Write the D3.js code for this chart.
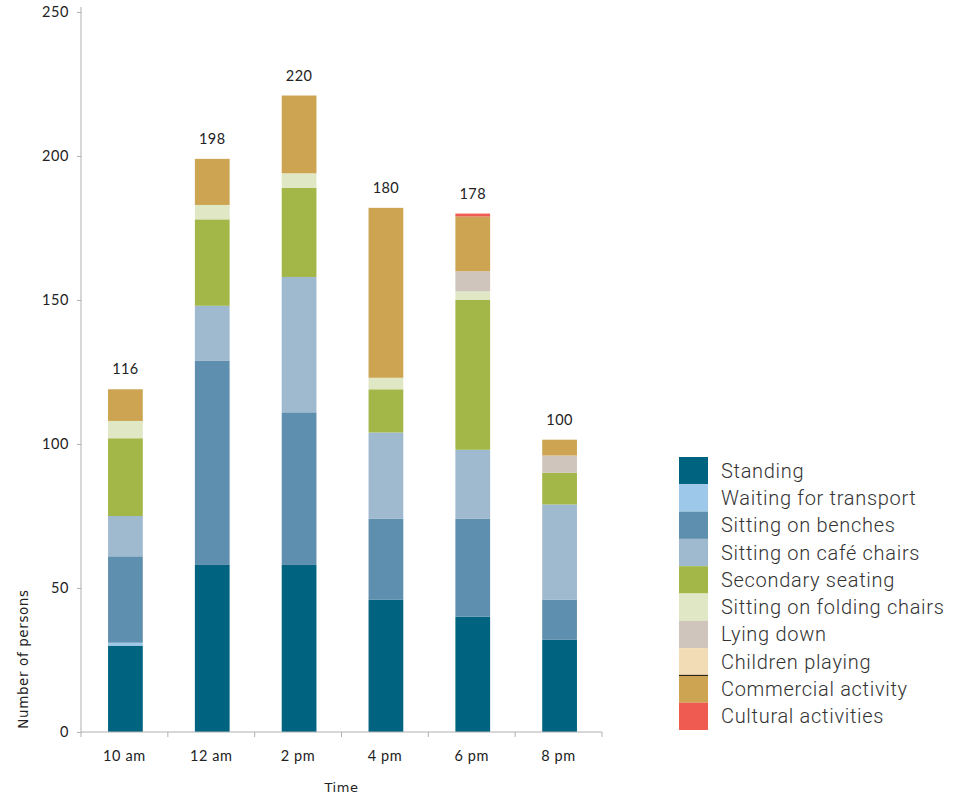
<!DOCTYPE html>
<html>
<head>
<meta charset="utf-8">
<script src="https://cdn.jsdelivr.net/npm/d3@7"></script>
<style>
  body { margin: 0; background: #fff; }
  svg { display: block; }
</style>
</head>
<body>
<main></main>
<script>
// people counted per activity, by time of day

const times = ["10 am", "12 am", "2 pm", "4 pm", "6 pm", "8 pm"];
const totals = [116, 198, 220, 180, 178, 100];

const standing = [30, 58, 58, 46, 40, 32];
const waiting = [1, 0, 0, 0, 0, 0];
const benches = [30, 71, 53, 28, 34, 14];
const cafeChairs = [14, 19, 47, 30, 24, 33];
const secondary = [27, 30, 31, 15, 52, 11];
const folding = [6, 5, 5, 4, 3, 0];
const lying = [0, 0, 0, 0, 7, 6];
const children = [0, 0, 0, 0, 0, 0];
const commercial = [11, 16, 27, 59, 19, 5.5];
const cultural = [0, 0, 0, 0, 1, 0];

const seriesNames = ["Standing", "Waiting for transport", "Sitting on benches",
  "Sitting on café chairs", "Secondary seating", "Sitting on folding chairs",
  "Lying down", "Children playing", "Commercial activity", "Cultural activities"];
const seriesValues = [standing, waiting, benches, cafeChairs, secondary, folding,
  lying, children, commercial, cultural];
const yTicks = [0, 50, 100, 150, 200, 250];

const colors = ["#00637f", "#9dc8ea", "#5f8fae", "#9fb9cf", "#a2b747", "#dfe7c4",
  "#cfc5bc", "#f2dcb5", "#cda451", "#ef5b51"];

// build rows for the stack
const rows = times.map((t, i) => {
  let row = { time: t };
  seriesNames.forEach((s, j) => { row[s] = seriesValues[j][i]; });
  return row;
});

const width = 971, height = 798;
const plot = { left: 81, right: 602, top: 12, bottom: 732 };

const svg = d3.select("main").append("svg")
  .attr("width", width)
  .attr("height", height);

const x = d3.scaleBand()
  .domain(times)
  .range([plot.left, plot.right])
  .paddingInner(0.6)
  .paddingOuter(0.3);

const y = d3.scaleLinear()
  .domain([0, 250])
  .range([plot.bottom, plot.top]);

const color = d3.scaleOrdinal().domain(seriesNames).range(colors);

const stack = d3.stack().keys(seriesNames);
const layers = stack(rows);

// bars
svg.append("g")
  .selectAll("g")
  .data(layers)
  .enter().append("g")
  .attr("fill", d => color(d.key))
  .selectAll("rect")
  .data(d => d)
  .enter().append("rect")
  .attr("x", d => x(d.data.time) + 1)
  .attr("y", d => y(d[1]))
  .attr("width", x.bandwidth())
  .attr("height", d => y(d[0]) - y(d[1]));

// total labels above each bar
const tops = rows.map(r => d3.sum(seriesNames, s => r[s]));
svg.append("g")
  .selectAll("text")
  .data(times)
  .enter().append("text")
  .attr("x", d => x(d) + 1 + x.bandwidth() / 2)
  .attr("y", (d, i) => y(tops[i]) - 15)
  .attr("text-anchor", "middle")
  .style("font-family", "Lato, sans-serif")
  .style("font-size", "14.5px")
  .style("letter-spacing", "0.4px")
  .attr("fill", "#222")
  .text((d, i) => totals[i]);

// y axis
const yAxis = d3.axisLeft(y).tickValues(yTicks).tickSize(4).tickSizeOuter(0).tickPadding(8);
const gy = svg.append("g")
  .attr("transform", "translate(" + plot.left + ",0)")
  .call(yAxis);
gy.select(".domain").remove();
gy.append("line")
  .attr("x1", 0).attr("x2", 0)
  .attr("y1", plot.top - 5).attr("y2", plot.bottom)
  .attr("stroke", "#b0b0b0");
gy.selectAll(".tick line").attr("stroke", "#b0b0b0");
gy.selectAll(".tick text")
  .style("font-family", "Lato, sans-serif")
  .style("font-size", "14.5px")
  .style("letter-spacing", "0.6px")
  .attr("fill", "#222");

// x axis: labels at centers, ticks at category boundaries
const xAxis = d3.axisBottom(x).tickSize(0).tickPadding(19);
const gx = svg.append("g")
  .attr("transform", "translate(0," + plot.bottom + ")")
  .call(xAxis);
gx.select(".domain").attr("stroke", "#b0b0b0").attr("d", "M" + plot.left + ",0H" + plot.right);
gx.selectAll(".tick text")
  .style("font-family", "Lato, sans-serif")
  .style("font-size", "14.5px")
  .style("letter-spacing", "0.6px")
  .attr("fill", "#222");
const step = x.step();
const bounds = times.map((t, i) => plot.left + i * step).concat([plot.right]);
gx.selectAll(".bound")
  .data(bounds)
  .enter().append("line")
  .attr("class", "bound")
  .attr("x1", d => d).attr("x2", d => d)
  .attr("y1", 0).attr("y2", 5)
  .attr("stroke", "#b0b0b0");

// axis titles
svg.append("text")
  .attr("x", (plot.left + plot.right) / 2)
  .attr("y", 792)
  .attr("text-anchor", "middle")
  .style("font-family", "DejaVu Sans, sans-serif")
  .style("font-size", "13px")
  .style("letter-spacing", "0.5px")
  .attr("fill", "#222")
  .text("Time");

svg.append("text")
  .attr("transform", "translate(28,659) rotate(-90)")
  .attr("text-anchor", "middle")
  .style("font-family", "DejaVu Sans, sans-serif")
  .style("font-size", "13.5px")
  .style("letter-spacing", "0.6px")
  .attr("fill", "#222")
  .text("Number of persons");

// legend
const legend = svg.append("g").attr("transform", "translate(679,457)");
const rowH = 27.3;
const item = legend.selectAll("g")
  .data(seriesNames)
  .enter().append("g")
  .attr("transform", (d, i) => "translate(0," + i * rowH + ")");
item.append("rect")
  .attr("width", 29)
  .attr("height", rowH)
  .attr("fill", d => color(d));
legend.append("line")
  .attr("x1", 0).attr("x2", 29)
  .attr("y1", 8 * rowH).attr("y2", 8 * rowH)
  .attr("stroke", "#111").attr("stroke-width", 1);
item.append("text")
  .attr("x", 42)
  .attr("y", rowH / 2)
  .attr("dy", "0.35em")
  .style("font-family", "Roboto, sans-serif")
  .style("font-weight", "300")
  .style("font-size", "20px")
  .style("letter-spacing", "0.7px")
  .attr("fill", "#333")
  .text(d => d);
</script>
</body>
</html>
